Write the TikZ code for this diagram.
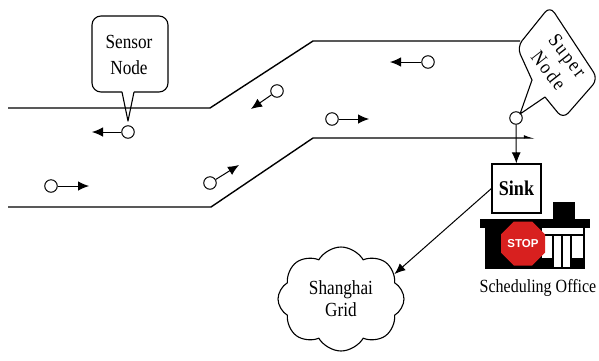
\documentclass[tikz,border=0pt]{standalone}
\usepackage{fontspec}
\setmainfont[FakeStretch=0.86]{Liberation Serif}
\newfontfamily\spacedserif[FakeStretch=0.86,LetterSpace=10]{Liberation Serif}
\newfontfamily\signfont{Liberation Sans}
\usetikzlibrary{arrows.meta,shapes.symbols,shapes.geometric}
\definecolor{stopred}{HTML}{D8201F}

\begin{document}
\begin{tikzpicture}[x=1pt,y=-1pt,
  road/.style={line width=1.4pt},
  bubble/.style={line width=1.1pt, line join=round},
  mote/.style={circle, draw, line width=1pt, fill=white, minimum size=12.5pt, inner sep=0pt},
  move/.style={line width=1pt, -{Latex[length=11pt,width=9.5pt]}},
  link/.style={line width=1pt, -{Latex[length=11pt,width=9pt]}},
  txt/.style={font=\fontsize{20}{26}\selectfont, align=center},
]
\useasboundingbox (0,0) rectangle (599,360);

% two lanes of the road
\draw[road] (8,108) -- (210,108) -- (313,41) -- (520,41);
\draw[road, -{Latex[harpoon,length=9pt,width=6pt]}] (8,207) -- (211,207) -- (313,138) -- (536,138);

% sensor node call-out
\draw[bubble, rounded corners=9pt] (122,92) -- (92,92) -- (92,16) -- (168,16) -- (168,92) -- (134,92);
\draw[bubble] (134,92) -- (128,121) -- (122,92);
\node[txt] (sensorlabel) at (129,55) {Sensor\\Node};

% moving nodes with their heading
\node[mote] (m1) at (128,132) {};
\coordinate (m1e) at (92,132);
\draw[move] (m1) -- (m1e);
\node[mote] (m2) at (277,91) {};
\coordinate (m2e) at (251,109);
\draw[move] (m2) -- (m2e);
\node[mote] (m3) at (51,186) {};
\coordinate (m3e) at (89,186);
\draw[move] (m3) -- (m3e);
\node[mote] (m4) at (210,183) {};
\coordinate (m4e) at (239,165);
\draw[move] (m4) -- (m4e);
\node[mote] (m5) at (428,62) {};
\coordinate (m5e) at (390,62);
\draw[move] (m5) -- (m5e);
\node[mote] (m6) at (332,119) {};
\coordinate (m6e) at (369,119);
\draw[move] (m6) -- (m6e);

% super node and its call-out
\node[mote] (sup) at (516,118) {};
\draw[bubble, rounded corners=8pt] (532,80) -- (517,47) -- (550,6) -- (598,79) -- (563,119) -- (545,97);
\draw[bubble] (545,97) -- (520,114) -- (532,80);
\node[rotate=-52, align=center, font=\spacedserif\fontsize{20}{24}\selectfont] (superlabel) at (558,63)
  {Super\\Node};

% sink
\node[draw, line width=1.1pt, minimum size=49pt, inner sep=0pt,
      font=\bfseries\fontsize{21}{22}\selectfont] (sink) at (516.5,188.5) {Sink};
\draw[link] (sup) -- (sink);

% scheduling office building
\fill (553,202) rectangle (575,220);
\fill (480,219) rectangle (590,228);
\fill (485,228) rectangle (585,269);
\fill[white] (542,228) rectangle (583,234);
\fill[white] (542,236) rectangle (552,258);
\fill[white] (554,236) rectangle (561,267);
\fill[white] (562.5,236) rectangle (570,267);
\fill[white] (572,236) rectangle (583,258);
\node[regular polygon, regular polygon sides=8, minimum size=39pt, inner sep=0pt,
      fill=white, draw=black!35, line width=0.6pt] (stoprim) at (523,243) {};
\node[regular polygon, regular polygon sides=8, minimum size=35pt, inner sep=0pt,
      fill=stopred, text=white, font=\signfont\bfseries\fontsize{11.5}{12}\selectfont] (stop) at (523,243.5) {STOP};
\node[font=\fontsize{18.6}{20}\selectfont] (office) at (538,288) {Scheduling Office};

% Shanghai grid cloud
\node[cloud, draw, line width=1.1pt, cloud puffs=8, cloud puff arc=120, cloud ignores aspect,
      minimum width=126pt, minimum height=104pt, align=center,
      font=\fontsize{20}{22}\selectfont] (grid) at (341,299) {Shanghai\\Grid};
\draw[link] (sink.west) -- (grid.25);
\end{tikzpicture}
\end{document}
